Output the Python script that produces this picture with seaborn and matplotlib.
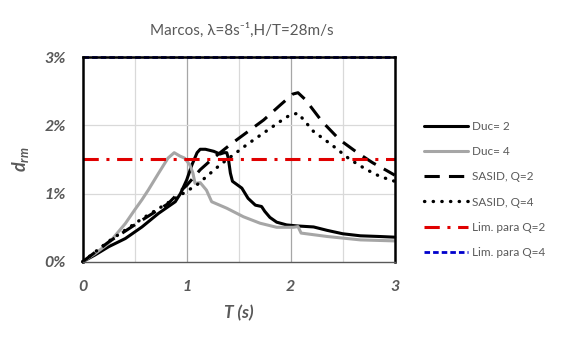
import numpy as np
import pandas as pd
import matplotlib
matplotlib.use("Agg")
import matplotlib.pyplot as plt
import seaborn as sns
from matplotlib.ticker import FixedLocator

# --- datos (T en s, d_rm en %) ---
T_duc2 = [0, 0.12, 0.25, 0.41, 0.57, 0.73, 0.89, 0.94, 1.0, 1.05, 1.10, 1.13, 1.18, 1.26, 1.32,
          1.36, 1.385, 1.40, 1.42, 1.44, 1.53, 1.59, 1.66, 1.72, 1.75, 1.80, 1.865, 1.96, 2.06,
          2.22, 2.35, 2.5, 2.67, 2.85, 3.0]
d_duc2 = [0, 0.10, 0.22, 0.34, 0.51, 0.71, 0.88, 1.00, 1.20, 1.42, 1.60, 1.65, 1.65, 1.62, 1.58,
          1.60, 1.60, 1.52, 1.30, 1.18, 1.08, 0.93, 0.83, 0.81, 0.74, 0.65, 0.58, 0.54, 0.525,
          0.51, 0.46, 0.41, 0.38, 0.37, 0.36]

T_duc4 = [0, 0.12, 0.25, 0.41, 0.50, 0.57, 0.63, 0.73, 0.82, 0.88, 0.935, 0.98, 1.03, 1.06, 1.08,
          1.13, 1.19, 1.24, 1.385, 1.545, 1.705, 1.865, 2.025, 2.07, 2.10, 2.35, 2.67, 3.0]
d_duc4 = [0, 0.12, 0.27, 0.56, 0.76, 0.91, 1.05, 1.30, 1.52, 1.60, 1.55, 1.52, 1.42, 1.30, 1.15,
          1.16, 1.05, 0.88, 0.785, 0.66, 0.565, 0.505, 0.505, 0.515, 0.42, 0.37, 0.32, 0.305]

T_q2 = [0, 0.25, 0.57, 0.82, 0.935, 1.0, 1.13, 1.24, 1.42, 1.74, 1.90, 2.02, 2.07, 2.14, 2.30,
        2.47, 2.65, 2.79, 2.92, 3.0]
d_q2 = [0, 0.29, 0.61, 0.85, 1.03, 1.12, 1.35, 1.50, 1.72, 2.08, 2.30, 2.46, 2.48, 2.38, 2.06,
        1.79, 1.59, 1.45, 1.34, 1.27]

T_q4 = [0, 0.25, 0.57, 0.89, 1.10, 1.32, 1.58, 1.90, 1.99, 2.07, 2.22, 2.39, 2.57, 2.73, 2.86, 3.0]
d_q4 = [0, 0.30, 0.63, 0.93, 1.13, 1.42, 1.72, 2.06, 2.15, 2.18, 1.91, 1.72, 1.50, 1.35, 1.25, 1.18]

T_lim = [0, 3]
lim_q2 = [1.5, 1.5]
lim_q4 = [3.0, 3.0]

labels = ["Duc= 2", "Duc= 4", "SASID, Q=2", "SASID, Q=4", "Lim. para Q=2", "Lim. para Q=4"]

gris = "#595959"

sns.set_style("white")
plt.rcParams['font.family'] = ['Lato', 'DejaVu Sans']
plt.rcParams['mathtext.fontset'] = 'custom'
plt.rcParams['mathtext.it'] = 'Lato:bold:italic'
plt.rcParams['mathtext.rm'] = 'Lato'

fig = plt.figure(figsize=(5.71, 3.42), dpi=100)
ax = fig.add_axes([0.1448, 0.2348, 0.5465, 0.5977])

# rejilla
for xv in [0.5, 1.5, 2.5]:
    ax.axvline(xv, color="#D9D9D9", lw=0.9, zorder=0)
for xv in [1, 2]:
    ax.axvline(xv, color="#A6A6A6", lw=0.9, zorder=0)
for yv in [1, 2]:
    ax.axhline(yv, color="#D9D9D9", lw=0.9, zorder=0)

series = [
    (T_duc2, d_duc2, dict(color="black", lw=2.2)),
    (T_duc4, d_duc4, dict(color="#A6A6A6", lw=2.2)),
    (T_q2, d_q2, dict(color="black", lw=2.2, dashes=(5, 3))),
    (T_q4, d_q4, dict(color="black", lw=2.4, dashes=(0.1, 2.5), dash_capstyle="round")),
    (T_lim, lim_q2, dict(color="#E00000", lw=2.2, dashes=(5, 2.5, 1, 2.5))),
    (T_lim, lim_q4, dict(color="#0000CC", lw=2.0, dashes=(2, 1.1))),
]
for (tx, dy, kw), lab in zip(series, labels):
    df = pd.DataFrame({"T": tx, "d": dy})
    sns.lineplot(data=df, x="T", y="d", ax=ax, label=lab, sort=False, clip_on=False, **kw)

ax.set_xlim(0, 3)
ax.set_ylim(0, 3)
ax.xaxis.set_major_locator(FixedLocator([0, 1, 2, 3]))
ax.yaxis.set_major_locator(FixedLocator([0, 1, 2, 3]))
ax.set_xticklabels(["0", "1", "2", "3"])
ax.set_yticklabels(["0%", "1%", "2%", "3%"])
ax.tick_params(length=0, labelsize=11.5, labelcolor=gris)
ax.tick_params(axis="x", pad=13)
ax.tick_params(axis="y", pad=12)
for t in ax.get_xticklabels() + ax.get_yticklabels():
    t.set_fontweight("bold")
    t.set_fontstyle("italic")

for s in ["left", "right", "top"]:
    ax.spines[s].set_color("black")
    ax.spines[s].set_linewidth(1.8)
ax.spines["bottom"].set_color("#595959")
ax.spines["bottom"].set_linewidth(1.0)

ax.set_xlabel("T (s)", fontsize=12.5, fontweight="bold", fontstyle="italic", color=gris, labelpad=8)
ax.set_ylabel(r"$d_{rm}$", fontsize=13, color=gris, labelpad=10)

fig.text(0.424, 0.91, "Marcos, λ=8s⁻¹,H/T=28m/s", ha="center", va="center",
         fontsize=11, color=gris)

leg = ax.legend(loc="upper left", bbox_to_anchor=(0.735, 0.66), bbox_transform=fig.transFigure,
                frameon=False, fontsize=8.5, handlelength=3.7, handletextpad=0.3,
                labelspacing=1.2, borderaxespad=0)
for t in leg.get_texts():
    t.set_color(gris)

fig.savefig("out.png", dpi=100)
